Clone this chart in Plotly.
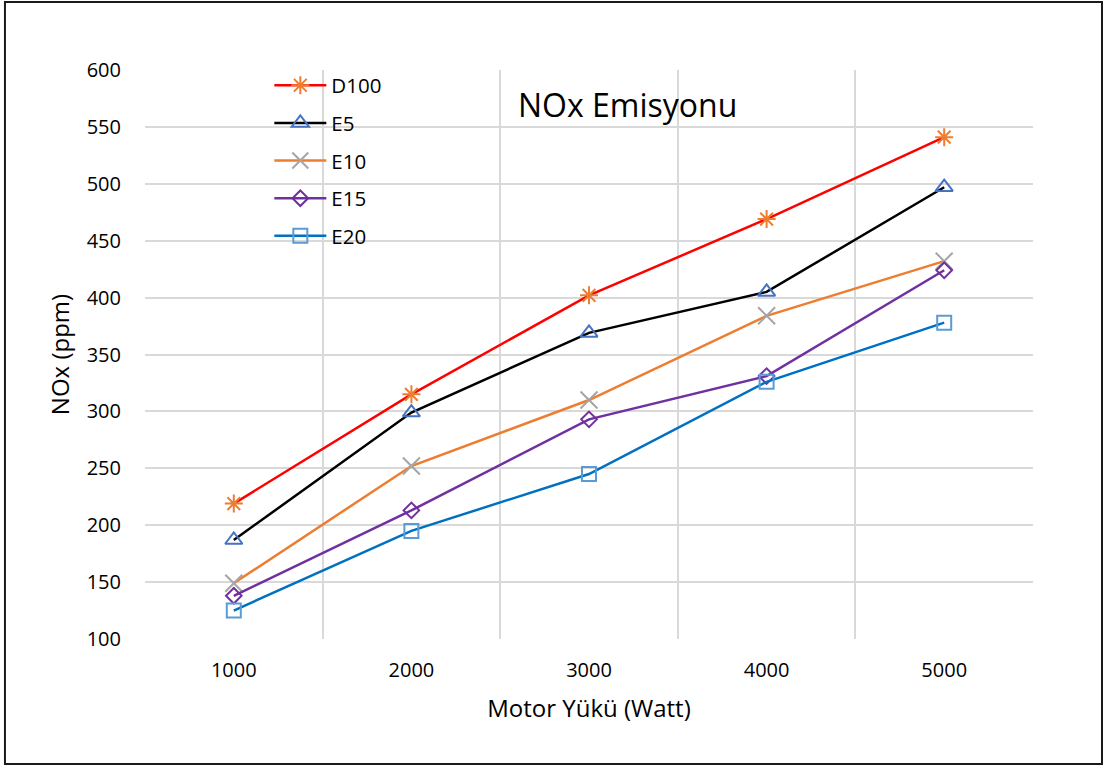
import plotly.graph_objects as go

loads = [1000, 2000, 3000, 4000, 5000]
d100 = [219, 315, 402, 469, 541]
e5 = [187, 299, 369, 405, 497]
e10 = [149, 252, 310, 384, 432]
e15 = [138, 213, 293, 331, 424]
e20 = [125, 195, 245, 326, 378]
y_ticks = [100, 150, 200, 250, 300, 350, 400, 450, 500, 550, 600]

series = [
    ("D100", d100, "#FF0000", "asterisk-open", "#ED7D31", 15),
    ("E5", e5, "#000000", "triangle-up-open", "#4472C4", 15),
    ("E10", e10, "#ED7D31", "x-thin-open", "#A5A5A5", 17),
    ("E15", e15, "#7030A0", "diamond-open", "#7030A0", 12),
    ("E20", e20, "#0070C0", "square-open", "#5B9BD5", 14),
]

fig = go.Figure()
for name, vals, lc, sym, mc, ms in series:
    fig.add_trace(go.Scatter(
        x=loads, y=vals, name=name, mode="lines+markers",
        line=dict(color=lc, width=2.5),
        marker=dict(symbol=sym, size=ms, color=mc, line=dict(color=mc, width=2)),
        legendgroup=name,
    ))

font = "Open Sans, Liberation Sans, Arial, sans-serif"
fig.update_layout(
    width=1104, height=766,
    margin=dict(l=145, r=71, t=70, b=127),
    paper_bgcolor="white", plot_bgcolor="white",
    font=dict(family=font, size=20, color="#000000"),
    showlegend=True,
    legend=dict(x=0.14, y=1.008, xanchor="left", yanchor="top",
                bgcolor="rgba(0,0,0,0)", font=dict(size=20.5),
                tracegroupgap=8, itemwidth=52),
    annotations=[dict(text="NOx Emisyonu", x=0.543, y=0.94, xref="paper", yref="paper",
                      showarrow=False, font=dict(size=32, family=font),
                      xanchor="center", yanchor="middle")],
    shapes=[dict(type="rect", xref="paper", yref="paper",
                 x0=-0.1577, x1=1.0777, y0=-0.2197, y1=1.1195,
                 line=dict(color="#1a1a1a", width=2), layer="above")],
)
fig.update_xaxes(
    range=[500, 5500], tickvals=loads, ticktext=[str(v) for v in loads],
    showgrid=False, zeroline=False, showline=False, ticks="",
    ticklabelstandoff=17,
    minor=dict(tickvals=[500, 1500, 2500, 3500, 4500, 5500], showgrid=True,
               gridcolor="#D9D9D9", gridwidth=2, ticks=""),
    title=dict(text="Motor Yükü (Watt)", font=dict(size=24), standoff=18),
)
fig.update_yaxes(
    range=[100, 600], tickvals=y_ticks, showgrid=True,
    gridcolor="#D9D9D9", gridwidth=2, zeroline=False, showline=False, ticks="",
    ticklabelstandoff=23,
    title=dict(text="NOx (ppm)", font=dict(size=24), standoff=10),
)
fig.write_html("out.html")
